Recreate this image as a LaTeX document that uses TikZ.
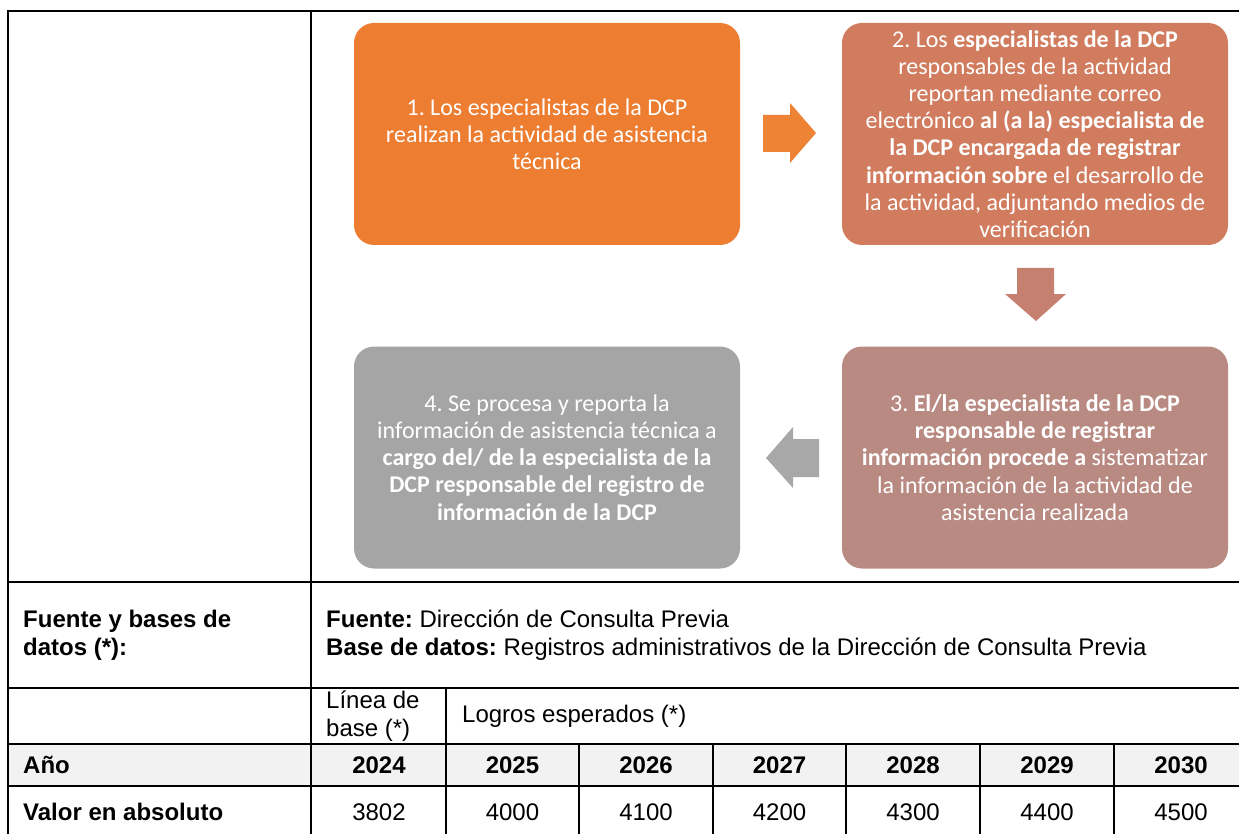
\documentclass[tikz,border=0pt]{standalone}
\usepackage{fontspec}
\setmainfont{Liberation Sans}
\newfontfamily\boxfont{Carlito}
\usepackage{tikz}
\frenchspacing
\definecolor{boxorange}{HTML}{ED7D31}
\definecolor{boxrust}{HTML}{D17C5E}
\definecolor{boxrose}{HTML}{B98A82}
\definecolor{boxgray}{HTML}{A5A5A5}
\definecolor{arrorange}{HTML}{EE8336}
\definecolor{arrrust}{HTML}{C5806F}
\definecolor{arrgray}{HTML}{A8A8A8}
\definecolor{rowgray}{HTML}{F2F2F2}
\tikzstyle{proc_box}=[rectangle, rounded corners=20pt, minimum width=386pt, minimum height=222pt, inner sep=0pt, text=white, align=center, font=\boxfont\fontsize{24}{27.2}\selectfont]
\tikzstyle{cell_text}=[inner sep=0pt, anchor=west, align=left, font=\fontsize{24}{28}\selectfont]
\tikzstyle{cell_num}=[inner sep=0pt, font=\fontsize{24}{28}\selectfont]
\tikzstyle{grid_line}=[line width=2pt]

\begin{document}
\begin{tikzpicture}[x=1pt, y=-1pt]
\useasboundingbox (0,0) rectangle (1239,834);
\fill[rowgray] (8,744) rectangle (1239,786);
\draw[grid_line] (1239,11) -- (8,11) -- (8,834);
\draw[grid_line] (311,11) -- (311,834);
\draw[grid_line] (8,582) -- (1239,582);
\draw[grid_line] (8,688) -- (1239,688);
\draw[grid_line] (8,744) -- (1239,744);
\draw[grid_line] (8,786) -- (1239,786);
\draw[grid_line] (446,688) -- (446,834);
\draw[grid_line] (579,744) -- (579,834);
\draw[grid_line] (713,744) -- (713,834);
\draw[grid_line] (846,744) -- (846,834);
\draw[grid_line] (980,744) -- (980,834);
\draw[grid_line] (1114,744) -- (1114,834);
\node[proc_box, fill=boxorange] (step1) at (547,134){1. Los especialistas de la DCP\\realizan la actividad de asistencia\\técnica};
\node[proc_box, fill=boxrust] (step2) at (1035,134){2. Los \textbf{especialistas de la DCP}\\responsables de la actividad\\reportan mediante correo\\electrónico \textbf{al (a la) especialista de}\\\textbf{la DCP encargada de registrar}\\\textbf{información sobre} el desarrollo de\\la actividad, adjuntando medios de\\verificación};
\node[proc_box, fill=boxrose] (step3) at (1035,457.5){3. \textbf{El/la especialista de la DCP}\\\textbf{responsable de registrar}\\\textbf{información procede a} sistematizar\\la información de la actividad de\\asistencia realizada};
\node[proc_box, fill=boxgray] (step4) at (547,457.5){4. Se procesa y reporta la\\información de asistencia técnica a\\\textbf{cargo del/ de la especialista de la}\\\textbf{DCP responsable del registro de}\\\textbf{información de la DCP}};
\fill[arrorange] (763,115) -- (790,115) -- (790,103) -- (816,133) -- (790,163) -- (790,152) -- (763,152) -- cycle;
\fill[arrrust] (1017,268) -- (1054,268) -- (1054,294) -- (1066,294) -- (1036,321) -- (1005,294) -- (1017,294) -- cycle;
\fill[arrgray] (819,439) -- (793,439) -- (793,427) -- (766,458) -- (793,488) -- (793,477) -- (819,477) -- cycle;
\node[cell_text] (srclbl) at (23,635){\textbf{Fuente y bases de}\\\textbf{datos (*):}};
\node[cell_text] (srctxt) at (326,635){\textbf{Fuente:} Dirección de Consulta Previa\\\textbf{Base de datos:} Registros administrativos de la Dirección de Consulta Previa};
\node[cell_text] (baselbl) at (326,716){Línea de\\base (*)};
\node[cell_text] (goallbl) at (462,716){Logros esperados (*)};
\node[cell_text] (yearlbl) at (23,765){\textbf{Año}};
\node[cell_text] (vallbl) at (23,812){\textbf{Valor en absoluto}};
\node[cell_num] (yr0) at (379,765){\textbf{2024}};
\node[cell_num] (yr1) at (512.5,765){\textbf{2025}};
\node[cell_num] (yr2) at (646,765){\textbf{2026}};
\node[cell_num] (yr3) at (779.5,765){\textbf{2027}};
\node[cell_num] (yr4) at (913,765){\textbf{2028}};
\node[cell_num] (yr5) at (1047,765){\textbf{2029}};
\node[cell_num] (yr6) at (1181,765){\textbf{2030}};
\node[cell_num] (val0) at (379,812){3802};
\node[cell_num] (val1) at (512.5,812){4000};
\node[cell_num] (val2) at (646,812){4100};
\node[cell_num] (val3) at (779.5,812){4200};
\node[cell_num] (val4) at (913,812){4300};
\node[cell_num] (val5) at (1047,812){4400};
\node[cell_num] (val6) at (1181,812){4500};
\end{tikzpicture}
\end{document}
